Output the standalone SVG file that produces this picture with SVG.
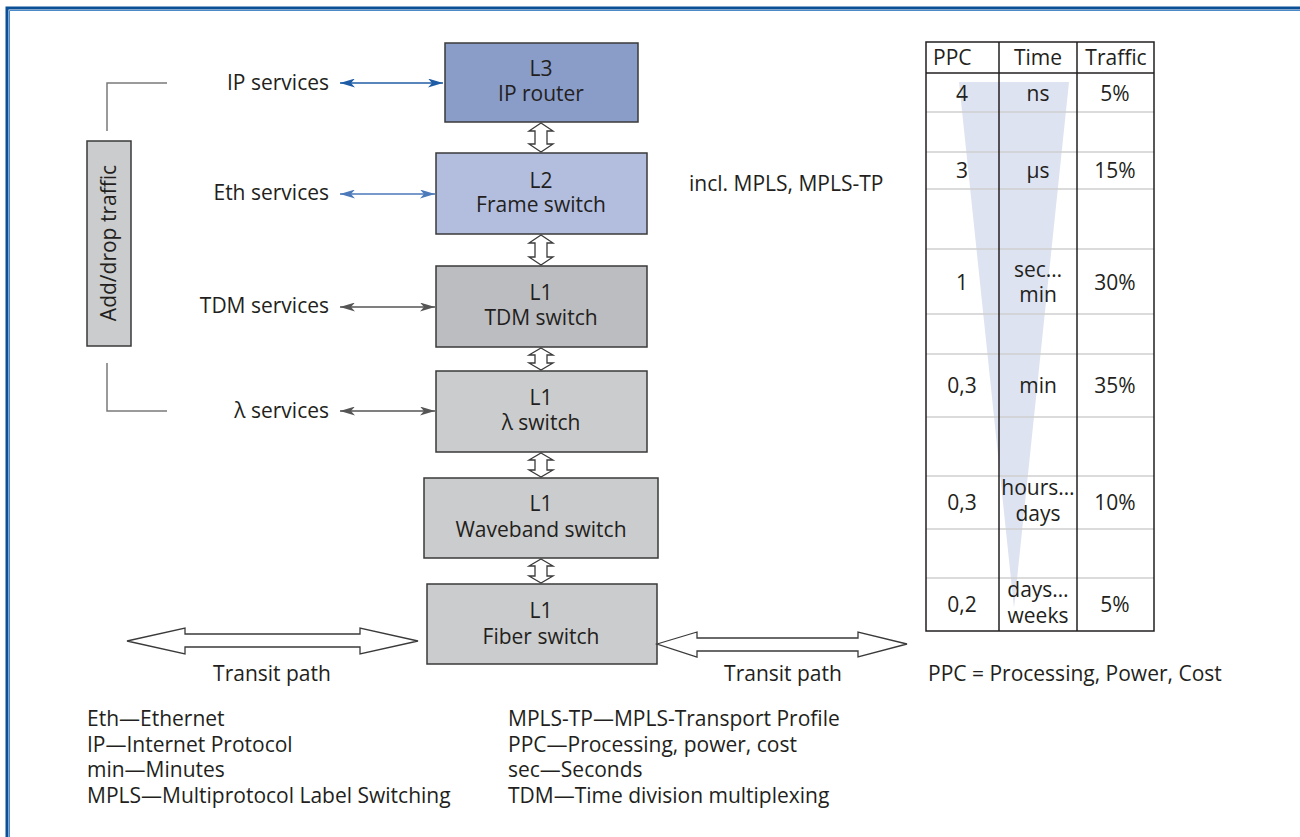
<svg xmlns="http://www.w3.org/2000/svg" width="1300" height="837" viewBox="0 0 1300 837">
<style>
text{font-family:"Open Sans","Noto Sans","Liberation Sans",sans-serif;font-size:21px;fill:#231f20}
.c{text-anchor:middle}
.r{text-anchor:end}
.box{stroke:#3a3a3a;stroke-width:1.5}
.dbl{fill:#fff;stroke:#3a3a3a;stroke-width:1.3}
.grid{stroke:#cfcfcf;stroke-width:1.5}
.dark{stroke:#231f20;stroke-width:1.5;fill:none}
.brk{stroke:#7a7a7a;stroke-width:1.5;fill:none}
</style>
<defs>
<marker id="mB1" viewBox="0 0 15 9" refX="15" refY="4.5" markerWidth="15" markerHeight="9" markerUnits="userSpaceOnUse" orient="auto-start-reverse"><path d="M0,0 L15,4.5 L0,9 L4,4.5 z" fill="#1f5ca6"/></marker>
<marker id="mB2" viewBox="0 0 15 9" refX="15" refY="4.5" markerWidth="15" markerHeight="9" markerUnits="userSpaceOnUse" orient="auto-start-reverse"><path d="M0,0 L15,4.5 L0,9 L4,4.5 z" fill="#4b79b9"/></marker>
<marker id="mG" viewBox="0 0 15 9" refX="15" refY="4.5" markerWidth="15" markerHeight="9" markerUnits="userSpaceOnUse" orient="auto-start-reverse"><path d="M0,0 L15,4.5 L0,9 L4,4.5 z" fill="#555"/></marker>
</defs>
<rect width="1300" height="837" fill="#fff"/>
<!-- frame -->
<path d="M7,837 V8 H1300" fill="none" stroke="#0b4f96" stroke-width="3"/>
<path d="M9.5,837 V10.5 H1300" fill="none" stroke="#4a8ac8" stroke-width="1"/>

<!-- table -->
<g id="table">
<polygon points="959,82 1069,82 1014,608" fill="#dde3f0"/>
<g class="grid">
<line x1="926" y1="112" x2="1154" y2="112"/>
<line x1="926" y1="152" x2="1154" y2="152"/>
<line x1="926" y1="189" x2="1154" y2="189"/>
<line x1="926" y1="249" x2="1154" y2="249"/>
<line x1="926" y1="314" x2="1154" y2="314"/>
<line x1="926" y1="354" x2="1154" y2="354"/>
<line x1="926" y1="417" x2="1154" y2="417"/>
<line x1="926" y1="476" x2="1154" y2="476"/>
<line x1="926" y1="529" x2="1154" y2="529"/>
<line x1="926" y1="578" x2="1154" y2="578"/>
</g>
<rect x="926" y="42" width="228" height="589" class="dark"/>
<line x1="926" y1="73" x2="1154" y2="73" class="dark"/>
<line x1="999" y1="42" x2="999" y2="631" class="dark"/>
<line x1="1077" y1="42" x2="1077" y2="631" class="dark"/>
<text x="933" y="65">PPC</text>
<text x="1038" y="65" class="c">Time</text>
<text x="1116" y="65" class="c">Traffic</text>
<text x="962" y="101" class="c">4</text><text x="1038" y="101" class="c">ns</text><text x="1115" y="101" class="c">5%</text>
<text x="962" y="178" class="c">3</text><text x="1038" y="178" class="c">µs</text><text x="1115" y="178" class="c">15%</text>
<text x="962" y="290" class="c">1</text><text x="1038" y="277" class="c">sec…</text><text x="1038" y="302" class="c">min</text><text x="1115" y="290" class="c">30%</text>
<text x="962" y="393" class="c">0,3</text><text x="1038" y="393" class="c">min</text><text x="1115" y="393" class="c">35%</text>
<text x="962" y="510" class="c">0,3</text><text x="1038" y="495" class="c">hours…</text><text x="1038" y="521" class="c">days</text><text x="1115" y="510" class="c">10%</text>
<text x="962" y="612" class="c">0,2</text><text x="1038" y="597" class="c">days…</text><text x="1038" y="623" class="c">weeks</text><text x="1115" y="612" class="c">5%</text>
</g>
<text x="928" y="681">PPC = Processing, Power, Cost</text>
<text x="689" y="191">incl. MPLS, MPLS-TP</text>

<!-- nodes -->
<g id="n-l3"><rect x="445" y="43" width="193" height="79" fill="#8a9cc8" class="box"/><text x="541" y="76" class="c">L3</text><text x="541" y="101" class="c">IP router</text></g>
<g id="n-l2"><rect x="436" y="153" width="211" height="81" fill="#b3bedf" class="box"/><text x="541" y="188" class="c">L2</text><text x="541" y="212" class="c">Frame switch</text></g>
<g id="n-tdm"><rect x="436" y="266" width="211" height="81" fill="#bcbdc0" class="box"/><text x="541" y="300" class="c">L1</text><text x="541" y="325" class="c">TDM switch</text></g>
<g id="n-lambda"><rect x="436" y="371" width="211" height="81" fill="#cbcccd" class="box"/><text x="541" y="405" class="c">L1</text><text x="541" y="430" class="c">λ switch</text></g>
<g id="n-wave"><rect x="424" y="478" width="234" height="80" fill="#cbcccd" class="box"/><text x="541" y="511" class="c">L1</text><text x="541" y="537" class="c">Waveband switch</text></g>
<g id="n-fiber"><rect x="427" y="584" width="230" height="80" fill="#cbcccd" class="box"/><text x="541" y="618" class="c">L1</text><text x="541" y="644" class="c">Fiber switch</text></g>
<g id="n-adddrop"><rect x="87" y="141" width="44" height="205" fill="#cbcccd" class="box"/><text x="0" y="0" class="c" transform="translate(116,243) rotate(-90)">Add/drop traffic</text></g>

<!-- service labels -->
<g id="labels">
<text x="329" y="90" class="r">IP services</text>
<text x="329" y="200" class="r">Eth services</text>
<text x="329" y="313" class="r">TDM services</text>
<text x="329" y="418" class="r">λ services</text>
<text x="272" y="681" class="c">Transit path</text>
<text x="783" y="681" class="c">Transit path</text>
</g>

<!-- connectors -->
<g id="connectors">
<line x1="340" y1="83" x2="443" y2="83" stroke="#1f5ca6" stroke-width="1.5" marker-start="url(#mB1)" marker-end="url(#mB1)"/>
<line x1="340" y1="194" x2="435" y2="194" stroke="#4b79b9" stroke-width="1.5" marker-start="url(#mB2)" marker-end="url(#mB2)"/>
<line x1="340" y1="307" x2="435" y2="307" stroke="#555" stroke-width="1.5" marker-start="url(#mG)" marker-end="url(#mG)"/>
<line x1="340" y1="411" x2="435" y2="411" stroke="#555" stroke-width="1.5" marker-start="url(#mG)" marker-end="url(#mG)"/>
<polygon class="dbl" points="541,123 553,131 547,131 547,144 553,144 541,152 529,144 535,144 535,131 529,131"/>
<polygon class="dbl" points="541,235 553,243 547,243 547,257 553,257 541,265 529,257 535,257 535,243 529,243"/>
<polygon class="dbl" points="541,348 553,355 547,355 547,363 553,363 541,370 529,363 535,363 535,355 529,355"/>
<polygon class="dbl" points="541,453 553,460 547,460 547,470 553,470 541,477 529,470 535,470 535,460 529,460"/>
<polygon class="dbl" points="541,559 553,566 547,566 547,576 553,576 541,583 529,576 535,576 535,566 529,566"/>
<polygon class="dbl" points="127,641 185,628 185,634 360,634 360,628 418,641 360,654 360,647 185,647 185,654"/>
<polygon class="dbl" points="657,644 697,632 697,638 858,638 858,632 907,644 858,657 858,651 697,651 697,657"/>
<path class="brk" d="M107,131 V83 H167"/>
<path class="brk" d="M107,363 V411 H167"/>
</g>

<!-- legend -->
<g id="legend">
<text x="87" y="726">Eth—Ethernet</text>
<text x="87" y="752">IP—Internet Protocol</text>
<text x="87" y="777">min—Minutes</text>
<text x="87" y="803">MPLS—Multiprotocol Label Switching</text>
<text x="508" y="726">MPLS-TP—MPLS-Transport Profile</text>
<text x="508" y="752">PPC—Processing, power, cost</text>
<text x="508" y="777">sec—Seconds</text>
<text x="508" y="803">TDM—Time division multiplexing</text>
</g>
</svg>
